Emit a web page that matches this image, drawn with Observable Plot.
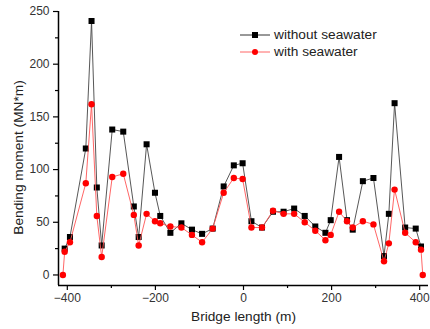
<!DOCTYPE html>
<html>
<head>
<meta charset="utf-8">
<script src="https://cdn.jsdelivr.net/npm/d3@7"></script>
<script src="https://cdn.jsdelivr.net/npm/@observablehq/plot@0.6"></script>
<style>
  html, body { margin: 0; padding: 0; background: #fff; }
  #wrap { position: relative; width: 430px; height: 329px; font-family: "Liberation Sans", Arial, sans-serif; }
  #legend { position: absolute; left: 240px; top: 26px; font-size: 13.7px; color: #222; line-height: 17px; }
  #legend div { display: flex; align-items: center; height: 17px; }
  #legend svg { margin-right: 4px; }
</style>
</head>
<body>
<div id="wrap">
  <div id="chart"></div>
  <div id="legend">
    <div><svg width="30" height="10"><line x1="0" y1="5" x2="30" y2="5" stroke="#333" stroke-width="1"/><rect x="12" y="2" width="6" height="6" fill="#000"/></svg>without seawater</div>
    <div><svg width="30" height="10"><line x1="0" y1="5" x2="30" y2="5" stroke="#ff6666" stroke-width="1"/><circle cx="15" cy="5" r="3" fill="#ff0000"/></svg>with seawater</div>
  </div>
</div>
<script>
const xWithout = [-406, -394, -358, -345, -333, -322, -298, -273, -249, -238, -220, -201, -189, -166, -141, -117, -94, -70, -45, -22, -2, 18, 42, 67, 91, 115, 139, 163, 186, 198, 217, 235, 248, 271, 295, 319, 330, 343, 367, 391, 403];
const yWithout = [25, 36, 120, 241, 83, 28, 138, 136, 65, 36, 124, 78, 56, 40, 49, 43, 39, 44, 84, 104, 106, 51, 45, 60, 60, 63, 56, 46, 40, 52, 112, 52, 43, 89, 92, 18, 58, 163, 45, 44, 27];
const xWith = [-410, -406, -394, -358, -345, -333, -322, -298, -273, -249, -238, -220, -201, -189, -166, -141, -117, -94, -70, -45, -22, -2, 18, 42, 67, 91, 115, 139, 163, 186, 198, 217, 235, 248, 271, 295, 319, 330, 343, 367, 391, 403, 407];
const yWith = [0, 22, 31, 87, 162, 56, 17, 93, 96, 57, 28, 58, 51, 49, 46, 45, 38, 31, 44, 78, 92, 91, 45, 45, 61, 58, 58, 50, 42, 33, 38, 60, 51, 45, 51, 48, 13, 30, 81, 40, 31, 24, 0];
const xTicks = [-400, -200, 0, 200, 400];
const xMinor = [-300, -100, 100, 300];
const yTicks = [0, 50, 100, 150, 200, 250];
const yMinor = [25, 75, 125, 175, 225];
const xLabel = "Bridge length (m)";
const yLabel = "Bending moment (MN*m)";

const without = xWithout.map((x, i) => ({x, y: yWithout[i]}));
const withS = xWith.map((x, i) => ({x, y: yWith[i]}));

const xDomain = [-420, 420];
const yDomain = [-10, 250];

const chart = Plot.plot({
  width: 430,
  height: 329,
  marginLeft: 58,
  marginRight: 2,
  marginTop: 11,
  marginBottom: 44,
  style: {fontFamily: "Liberation Sans, Arial, sans-serif", fontSize: "12px", color: "#333", background: "#fff"},
  x: {domain: xDomain},
  y: {domain: yDomain},
  marks: [
    Plot.axisX(xMinor, {tickSize: 3, text: null, label: null, stroke: "#000", strokeWidth: 1.2}),
    Plot.axisY(yMinor, {tickSize: 3, text: null, label: null, stroke: "#000", strokeWidth: 1.2}),
    Plot.axisX(xTicks, {tickSize: 5, tickPadding: 3, stroke: "#000", strokeWidth: 1.2, fill: "#333", fontSize: 12, label: null}),
    Plot.axisY(yTicks, {tickSize: 5, tickPadding: 4, stroke: "#000", strokeWidth: 1.2, fill: "#333", fontSize: 12, label: null}),
    Plot.text([xLabel], {frameAnchor: "bottom", dy: 35, fontSize: 13.7, fill: "#222", text: d => d}),
    Plot.text([yLabel], {frameAnchor: "left", textAnchor: "middle", rotate: -90, dx: -40, dy: 9, fontSize: 13.7, fill: "#222", text: d => d}),
    Plot.ruleX([xDomain[0]], {stroke: "#000", strokeWidth: 1.5}),
    Plot.ruleY([yDomain[0]], {stroke: "#000", strokeWidth: 1.5}),
    Plot.line(without, {x: "x", y: "y", stroke: "#444", strokeWidth: 0.9}),
    Plot.dot(without, {x: "x", y: "y", symbol: "square", r: 3.4, fill: "#000", stroke: "none"}),
    Plot.line(withS, {x: "x", y: "y", stroke: "#ff5555", strokeWidth: 0.9}),
    Plot.dot(withS, {x: "x", y: "y", symbol: "circle", r: 3.2, fill: "#ff0000", stroke: "none"})
  ]
});
document.getElementById("chart").appendChild(chart);
</script>
</body>
</html>
